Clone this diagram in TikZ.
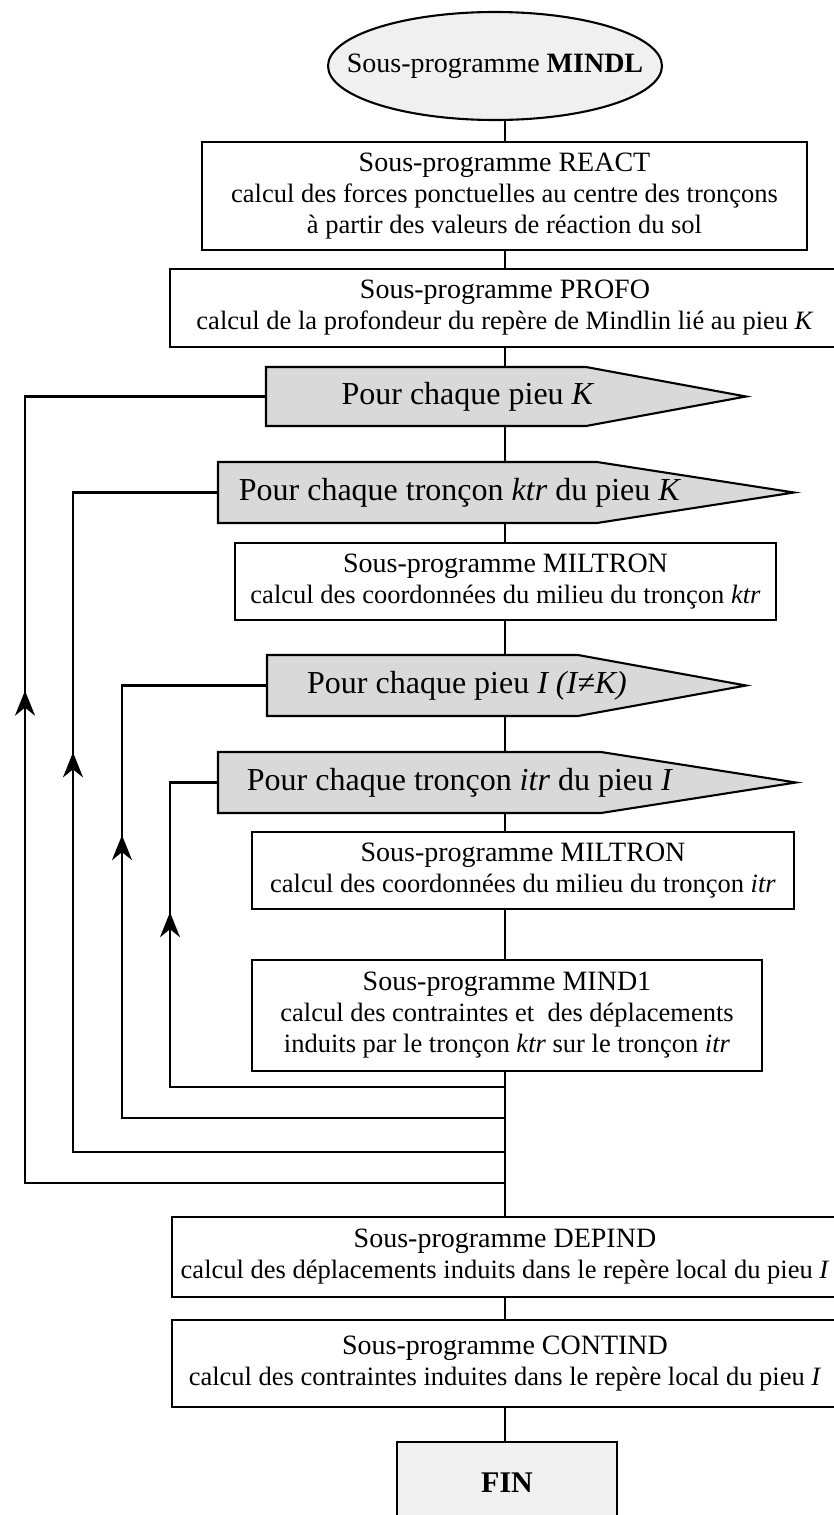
\documentclass[tikz,border=0pt]{standalone}
\usepackage{fontspec}
\setmainfont{Liberation Serif}
\usetikzlibrary{arrows.meta,decorations.markings,shapes.geometric}
\begin{document}
\begin{tikzpicture}[x=1pt,y=-1pt,line width=2.1pt,line join=miter,
  box/.style={draw,rectangle,fill=white,inner sep=0pt,align=center,
    font=\fontsize{26.5}{31}\selectfont},
  penttxt/.style={inner sep=0pt,font=\fontsize{32}{36}\selectfont},
  pent/.style={draw,fill=gray!30},
  upmark/.style={postaction={decorate},decoration={markings,
    mark=at position #1 with {\arrow{Stealth[length=25pt,width=20pt,inset=8pt]}}}}
]
\useasboundingbox (0,0) rectangle (834,1515);
\coordinate (sp) at (505,0);
% start ellipse
\node[ellipse,draw,fill=gray!12,minimum width=334,minimum height=108,inner sep=0pt] (ell) at (495,66) {};
\node[inner sep=0pt,font=\fontsize{28}{31}\selectfont] (elltxt) at (ell.center) {Sous-programme \textbf{MINDL}};
% boxes
\node[box,minimum width=605,minimum height=108] (react) at (504.5,196)
  {{\fontsize{28}{31}\selectfont Sous-programme REACT}\\calcul des forces ponctuelles au centre des tronçons\\à partir des valeurs de réaction du sol};
\node[box,minimum width=670,minimum height=78] (profo) at (505,308)
  {{\fontsize{28}{31}\selectfont Sous-programme PROFO}\\calcul de la profondeur du repère de Mindlin lié au pieu \textit{K}};
% pentagon: pieu K
\draw[pent] (266,367) -- (586,367) -- (746,396.5) -- (586,426) -- (266,426) -- cycle;
\coordinate (pkN) at (505,367); \coordinate (pkS) at (505,426); \coordinate (pkW) at (266,396.5);
\node[penttxt] (pk) at (468,396.5) {Pour chaque pieu \textit{K}};
% pentagon: troncon ktr
\draw[pent] (218,462) -- (597,462) -- (794,492.5) -- (597,523) -- (218,523) -- cycle;
\coordinate (ktN) at (505,462); \coordinate (ktS) at (505,523); \coordinate (ktW) at (218,492.5);
\node[penttxt] (kt) at (460,492.5) {Pour chaque tronçon \textit{ktr} du pieu \textit{K}};
\node[box,minimum width=541,minimum height=77] (mil1) at (505.5,581.5)
  {{\fontsize{28}{31}\selectfont Sous-programme MILTRON}\\calcul des coordonnées du milieu du tronçon \textit{ktr}};
% pentagon: pieu I
\draw[pent] (267,655) -- (578,655) -- (746,685.5) -- (578,716) -- (267,716) -- cycle;
\coordinate (piN) at (505,655); \coordinate (piS) at (505,716); \coordinate (piW) at (267,685.5);
\node[penttxt] (pi) at (467,685.5) {Pour chaque pieu \textit{I (I≠K)}};
% pentagon: troncon itr
\draw[pent] (218,752) -- (601,752) -- (796,782.5) -- (601,813) -- (218,813) -- cycle;
\coordinate (itN) at (505,752); \coordinate (itS) at (505,813); \coordinate (itW) at (218,782.5);
\node[penttxt] (it) at (460,782.5) {Pour chaque tronçon \textit{itr} du pieu \textit{I}};
\node[box,minimum width=542,minimum height=77] (mil2) at (523,870.5)
  {{\fontsize{28}{31}\selectfont Sous-programme MILTRON}\\calcul des coordonnées du milieu du tronçon \textit{itr}};
\node[box,minimum width=510,minimum height=111] (mind) at (507,1015.5)
  {{\fontsize{28}{31}\selectfont Sous-programme MIND1}\\calcul des contraintes et~ des déplacements\\induits par le tronçon \textit{ktr} sur le tronçon \textit{itr}};
\node[box,minimum width=666,minimum height=80] (dep) at (505,1257)
  {{\fontsize{28}{31}\selectfont Sous-programme DEPIND}\\calcul des déplacements induits dans le repère local du pieu \textit{I}};
\node[box,minimum width=666,minimum height=87] (cont) at (505,1363.5)
  {{\fontsize{28}{31}\selectfont Sous-programme CONTIND}\\calcul des contraintes induites dans le repère local du pieu \textit{I}};
\node[draw,rectangle,fill=gray!12,minimum width=220,minimum height=116,inner sep=0pt] (fin) at (507,1500) {};
\node[inner sep=0pt,font=\fontsize{30}{34}\selectfont\bfseries] (fintxt) at (507,1483) {FIN};
% spine
\draw (ell.south -| sp) -- (react.north -| sp);
\draw (react.south -| sp) -- (profo.north -| sp);
\draw (profo.south -| sp) -- (pkN);
\draw (pkS) -- (ktN);
\draw (ktS) -- (mil1.north -| sp);
\draw (mil1.south -| sp) -- (piN);
\draw (piS) -- (itN);
\draw (itS) -- (mil2.north -| sp);
\draw (mil2.south -| sp) -- (mind.north -| sp);
\draw (mind.south -| sp) -- (dep.north -| sp);
\draw (dep.south -| sp) -- (cont.north -| sp);
\draw (cont.south -| sp) -- (fin.north -| sp);
% loops
\coordinate (j1) at (505,1087); \coordinate (r1) at (170,0);
\coordinate (j2) at (505,1118); \coordinate (r2) at (122,0);
\coordinate (j3) at (505,1152); \coordinate (r3) at (73,0);
\coordinate (j4) at (505,1183); \coordinate (r4) at (25,0);
\draw (j1) -- (j1 -| r1) -- (r1 |- itW) -- (itW);
\draw (j2) -- (j2 -| r2) -- (r2 |- piW) -- (piW);
\draw (j3) -- (j3 -| r3) -- (r3 |- ktW) -- (ktW);
\draw (j4) -- (j4 -| r4) -- (r4 |- pkW) -- (pkW);
\path[upmark=0.574] (j1 -| r1) -- (r1 |- itW);
\path[upmark=0.654] (j2 -| r2) -- (r2 |- piW);
\path[upmark=0.606] (j3 -| r3) -- (r3 |- ktW);
\path[upmark=0.626] (j4 -| r4) -- (r4 |- pkW);
\end{tikzpicture}
\end{document}
